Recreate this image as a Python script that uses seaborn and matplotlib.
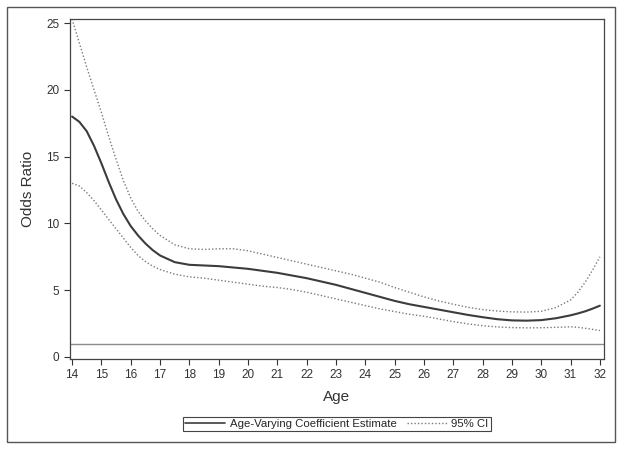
import numpy as np
import pandas as pd
import matplotlib
matplotlib.use("Agg")
import matplotlib.pyplot as plt
from matplotlib.patches import Rectangle
from matplotlib.lines import Line2D
import seaborn as sns

age = [14, 14.25, 14.5, 14.75, 15, 15.25, 15.5, 15.75, 16, 16.25, 16.5, 16.75, 17,
       17.5, 18, 18.5, 19, 19.5, 20, 20.5, 21, 21.5, 22, 22.5, 23, 23.5, 24, 24.5,
       25, 25.5, 26, 26.5, 27, 27.5, 28, 28.5, 29, 29.5, 30, 30.5,
       31, 31.25, 31.5, 31.75, 32]

estimate = [18.0, 17.6, 16.9, 15.8, 14.5, 13.1, 11.8, 10.7, 9.8, 9.1, 8.5, 8.0, 7.6,
            7.1, 6.9, 6.85, 6.8, 6.7, 6.6, 6.45, 6.3, 6.1, 5.9, 5.65, 5.4, 5.1, 4.8, 4.5,
            4.2, 3.95, 3.75, 3.55, 3.35, 3.15, 2.98, 2.83, 2.74, 2.72, 2.76, 2.9,
            3.12, 3.26, 3.42, 3.62, 3.84]

upper = [25.3, 23.5, 21.7, 20.0, 18.3, 16.5, 14.8, 13.2, 11.9, 10.9, 10.2, 9.6, 9.1,
         8.4, 8.1, 8.05, 8.1, 8.1, 7.95, 7.7, 7.45, 7.2, 6.95, 6.7, 6.45, 6.2, 5.9, 5.6,
         5.2, 4.85, 4.5, 4.2, 3.95, 3.72, 3.55, 3.44, 3.38, 3.36, 3.42, 3.7,
         4.27, 4.85, 5.6, 6.5, 7.5]

lower = [13.0, 12.8, 12.3, 11.7, 11.0, 10.3, 9.6, 8.9, 8.2, 7.6, 7.15, 6.8, 6.55,
         6.2, 6.0, 5.9, 5.75, 5.6, 5.45, 5.3, 5.2, 5.05, 4.85, 4.6, 4.35, 4.1, 3.85, 3.6,
         3.4, 3.2, 3.05, 2.85, 2.65, 2.48, 2.34, 2.25, 2.2, 2.18, 2.19, 2.22,
         2.26, 2.22, 2.15, 2.07, 1.98]

df = pd.DataFrame({"Age": age, "est": estimate, "hi": upper, "lo": lower})

sns.set_style("ticks")
plt.rcParams['font.family'] = ['Liberation Sans', 'DejaVu Sans']

fig = plt.figure(figsize=(6.24, 4.5), dpi=100)
ax = fig.add_axes([70/624, 1-359/450, 534/624, 340/450])

dark = "#3c3c3c"
ci_col = "#7a7a7a"
dots = (0, (1, 1.5))

ax.axhline(1, color="#8c8c8c", lw=1)
sns.lineplot(data=df, x="Age", y="hi", ax=ax, color=ci_col, lw=1, linestyle=dots)
sns.lineplot(data=df, x="Age", y="lo", ax=ax, color=ci_col, lw=1, linestyle=dots)
sns.lineplot(data=df, x="Age", y="est", ax=ax, color=dark, lw=1.5)

ax.set_xlim(13.93, 32.14)
ax.set_ylim(-0.15, 25.3)
ax.set_xticks(range(14, 33))
ax.set_yticks([0, 5, 10, 15, 20, 25])
ax.tick_params(labelsize=8.5, colors="#333333", length=4, width=0.8)
for s in ax.spines.values():
    s.set_color("#444444")
    s.set_linewidth(0.9)
ax.set_xlabel("Age", fontsize=11, color="#333333", labelpad=6)
ax.set_ylabel("Odds Ratio", fontsize=11, color="#333333", labelpad=8)

handles = [Line2D([], [], color=dark, lw=1.2),
           Line2D([], [], color=ci_col, lw=1, linestyle=dots)]
leg = fig.legend(handles, ["Age-Varying Coefficient Estimate", "95% CI"],
                 loc="center", bbox_to_anchor=(337/624, 1-424/450), ncol=2,
                 fontsize=8.2, frameon=True, fancybox=False, edgecolor="#444444",
                 framealpha=1, borderpad=0.2, handlelength=3.5, columnspacing=0.9,
                 handletextpad=0.4)
leg.get_frame().set_linewidth(0.8)

fig.patches.append(Rectangle((7/624, 1-442/450), 608/624, 435/450, transform=fig.transFigure,
                             fill=False, edgecolor="#555555", lw=1))

fig.savefig("out.png", dpi=100)
